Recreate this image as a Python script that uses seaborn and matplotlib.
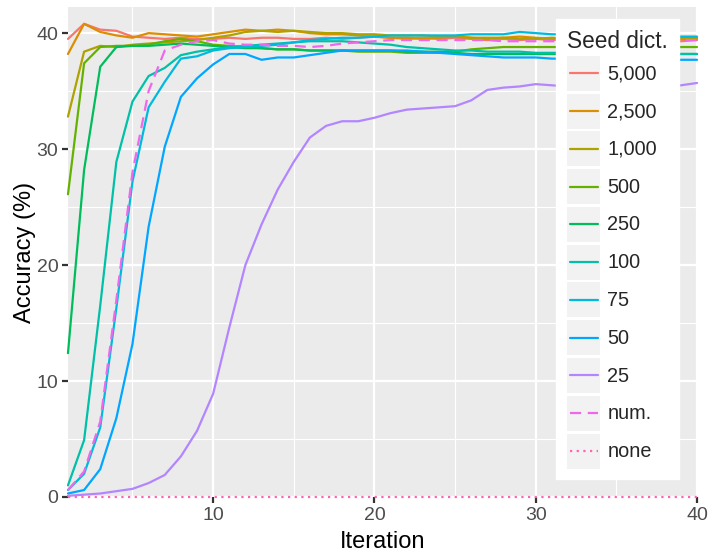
import matplotlib
matplotlib.use("Agg")
import numpy as np
import pandas as pd
import seaborn as sns
import matplotlib.pyplot as plt
from matplotlib.lines import Line2D
from matplotlib.patches import Rectangle
from matplotlib.legend_handler import HandlerBase
from matplotlib.ticker import MultipleLocator

# ---- data -------------------------------------------------------------
iterations = list(range(1, 41))

seed_labels = ["5,000", "2,500", "1,000", "500", "250", "100",
               "75", "50", "25", "num.", "none"]

acc_5000 = [39.5, 40.8, 40.3, 40.2, 39.7, 39.6, 39.5, 39.6, 39.5, 39.5,
            39.6, 39.5, 39.6, 39.6, 39.5, 39.5, 39.6, 39.5, 39.6, 39.7,
            39.6, 39.5, 39.6, 39.5, 39.6, 39.5, 39.4, 39.5, 39.4, 39.5,
            39.4, 39.5, 39.4, 39.4, 39.5, 39.4, 39.3, 39.4, 39.3, 39.4]
acc_2500 = [38.2, 40.8, 40.1, 39.8, 39.6, 40.0, 39.9, 39.8, 39.7, 39.9,
            40.1, 40.3, 40.2, 40.3, 40.2, 40.0, 39.9, 39.9, 39.8, 39.7,
            39.6, 39.6, 39.5, 39.6, 39.7, 39.6, 39.5, 39.6, 39.7, 39.6,
            39.5, 39.6, 39.5, 39.5, 39.6, 39.5, 39.5, 39.6, 39.5, 39.5]
acc_1000 = [32.8, 38.4, 38.9, 38.8, 39.0, 39.1, 39.2, 39.3, 39.4, 39.6,
            39.8, 40.1, 40.2, 40.1, 40.2, 40.1, 40.0, 40.0, 39.9, 39.9,
            39.8, 39.8, 39.8, 39.7, 39.7, 39.6, 39.6, 39.6, 39.5, 39.5,
            39.6, 39.5, 39.5, 39.6, 39.5, 39.5, 39.6, 39.6, 39.6, 39.6]
acc_500 = [26.1, 37.4, 38.8, 38.9, 38.9, 39.0, 39.3, 39.5, 39.3, 39.0,
           38.9, 38.8, 38.7, 38.6, 38.6, 38.5, 38.5, 38.5, 38.4, 38.4,
           38.4, 38.3, 38.3, 38.3, 38.4, 38.6, 38.7, 38.8, 38.8, 38.8,
           38.8, 38.8, 38.8, 38.8, 38.8, 38.8, 38.8, 38.8, 38.8, 38.8]
acc_250 = [12.4, 28.2, 37.1, 38.8, 38.9, 38.9, 39.0, 39.1, 39.0, 38.9,
           38.8, 38.7, 38.7, 38.6, 38.6, 38.5, 38.5, 38.5, 38.5, 38.5,
           38.5, 38.4, 38.4, 38.4, 38.3, 38.2, 38.2, 38.2, 38.2, 38.2,
           38.2, 38.2, 38.2, 38.2, 38.2, 38.2, 38.2, 38.2, 38.2, 38.2]
acc_100 = [1.0, 4.9, 16.5, 28.9, 34.1, 36.3, 37.0, 38.1, 38.4, 38.6,
           38.8, 38.9, 39.0, 39.1, 39.2, 39.3, 39.3, 39.3, 39.2, 39.1,
           39.0, 38.8, 38.7, 38.6, 38.5, 38.5, 38.4, 38.4, 38.4, 38.3,
           38.3, 38.3, 38.3, 38.2, 38.2, 38.2, 38.2, 38.2, 38.2, 38.2]
acc_75 = [0.6, 2.0, 6.0, 16.3, 27.2, 33.6, 35.8, 37.8, 38.0, 38.5,
          38.7, 38.8, 38.9, 39.0, 39.2, 39.4, 39.5, 39.6, 39.6, 39.7,
          39.8, 39.8, 39.8, 39.8, 39.8, 39.9, 39.9, 39.9, 40.1, 40.0,
          39.9, 39.9, 39.8, 39.8, 39.8, 39.9, 39.8, 39.7, 39.7, 39.7]
acc_50 = [0.3, 0.6, 2.4, 6.8, 13.2, 23.3, 30.2, 34.5, 36.1, 37.3,
          38.2, 38.2, 37.7, 37.9, 37.9, 38.1, 38.3, 38.5, 38.5, 38.5,
          38.5, 38.5, 38.4, 38.3, 38.2, 38.1, 38.0, 37.9, 37.9, 37.9,
          37.8, 37.8, 37.8, 37.8, 37.8, 37.8, 37.8, 37.7, 37.7, 37.7]
acc_25 = [0.1, 0.2, 0.3, 0.5, 0.7, 1.2, 1.9, 3.5, 5.7, 8.9,
          14.6, 20.0, 23.5, 26.5, 28.9, 31.0, 32.0, 32.4, 32.4, 32.7,
          33.1, 33.4, 33.5, 33.6, 33.7, 34.2, 35.1, 35.3, 35.4, 35.6,
          35.5, 35.4, 35.5, 35.4, 35.3, 35.3, 35.4, 35.3, 35.5, 35.7]
acc_num = [0.6, 2.2, 6.5, 17.0, 28.0, 35.0, 38.5, 39.0, 39.3, 39.4,
           39.1, 39.0, 39.0, 38.9, 38.9, 38.8, 38.9, 39.1, 39.2, 39.3,
           39.4, 39.4, 39.4, 39.4, 39.4, 39.4, 39.4, 39.3, 39.3, 39.3,
           39.3, 39.3, 39.3, 39.3, 39.3, 39.3, 39.3, 39.4, 39.4, 39.4]
acc_none = [0.0] * 40

series = [acc_5000, acc_2500, acc_1000, acc_500, acc_250, acc_100,
          acc_75, acc_50, acc_25, acc_num, acc_none]

colors = ["#F8766D", "#DB8E00", "#AEA200", "#64B200", "#00BD5C", "#00C1A7",
          "#00BADE", "#00A6FF", "#B385FF", "#EF67EB", "#FF63B6"]

df = pd.concat(
    [pd.DataFrame({"Iteration": iterations, "Accuracy": vals, "Seed dict.": lab})
     for lab, vals in zip(seed_labels, series)],
    ignore_index=True,
)

palette = dict(zip(seed_labels, colors))
dash_map = {lab: "" for lab in seed_labels}
dash_map["num."] = (5, 3)
dash_map["none"] = (1, 2)

# ---- figure -----------------------------------------------------------
sns.set_theme(style="darkgrid")
plt.rcParams["font.family"] = ["Liberation Sans", "DejaVu Sans"]

fig = plt.figure(figsize=(7.14, 5.53), dpi=100)
ax = fig.add_axes([0.0952, 0.1013, 0.8810, 0.8860])

sns.lineplot(data=df, x="Iteration", y="Accuracy", hue="Seed dict.",
             style="Seed dict.", hue_order=seed_labels, style_order=seed_labels,
             palette=palette, dashes=dash_map, linewidth=1.6, legend=False,
             ax=ax)

for line in ax.get_lines():
    line.set_clip_on(False)

ax.set_facecolor("#EBEBEB")
ax.set_xlim(1, 40)
ax.set_ylim(0, 42.25)
ax.xaxis.set_major_locator(MultipleLocator(10))
ax.xaxis.set_minor_locator(MultipleLocator(5))
ax.yaxis.set_major_locator(MultipleLocator(10))
ax.yaxis.set_minor_locator(MultipleLocator(5))
ax.grid(which="major", color="white", linewidth=1.6)
ax.grid(which="minor", color="white", linewidth=0.8)
ax.set_axisbelow(True)
for sp in ax.spines.values():
    sp.set_visible(False)

ax.tick_params(which="major", length=4, width=1.6, color="#333333",
               labelcolor="#4D4D4D", labelsize=14, pad=3,
               bottom=True, left=True)
ax.tick_params(which="minor", length=0)

ax.set_xlabel("Iteration", fontsize=17, color="black", labelpad=5)
ax.set_ylabel("Accuracy (%)", fontsize=17, color="black", labelpad=0.5)


# legend keys drawn on a light grey square
class KeyHandler(HandlerBase):
    def create_artists(self, legend, orig_handle, xdescent, ydescent,
                       width, height, fontsize, trans):
        bg = Rectangle((-xdescent, -ydescent), width, height,
                       facecolor="#F2F2F2", edgecolor="none", transform=trans)
        y = -ydescent + height / 2
        ln = Line2D([-xdescent + 2, -xdescent + width - 2], [y, y],
                    color=orig_handle.get_color(),
                    linewidth=orig_handle.get_linewidth(),
                    transform=trans)
        pattern = getattr(orig_handle, "key_dashes", "")
        if pattern:
            ln.set_dashes(pattern)
        return [bg, ln]


handles = []
for lab, col in zip(seed_labels, colors):
    h = Line2D([], [], color=col, linewidth=1.6)
    h.key_dashes = dash_map[lab]
    handles.append(h)

leg = ax.legend(handles, seed_labels, title="Seed dict.",
                handler_map={Line2D: KeyHandler()},
                loc="upper right", bbox_to_anchor=(0.9714, 0.9755),
                borderaxespad=0, fontsize=14.3, title_fontsize=16.3,
                handlelength=1.66, handleheight=2.334, labelspacing=0.14,
                handletextpad=0.35, borderpad=0.55, frameon=True,
                fancybox=False, alignment="left")
leg.get_frame().set_facecolor("white")
leg.get_frame().set_edgecolor("white")
leg.get_frame().set_alpha(1)

fig.savefig("out.png", dpi=100)
